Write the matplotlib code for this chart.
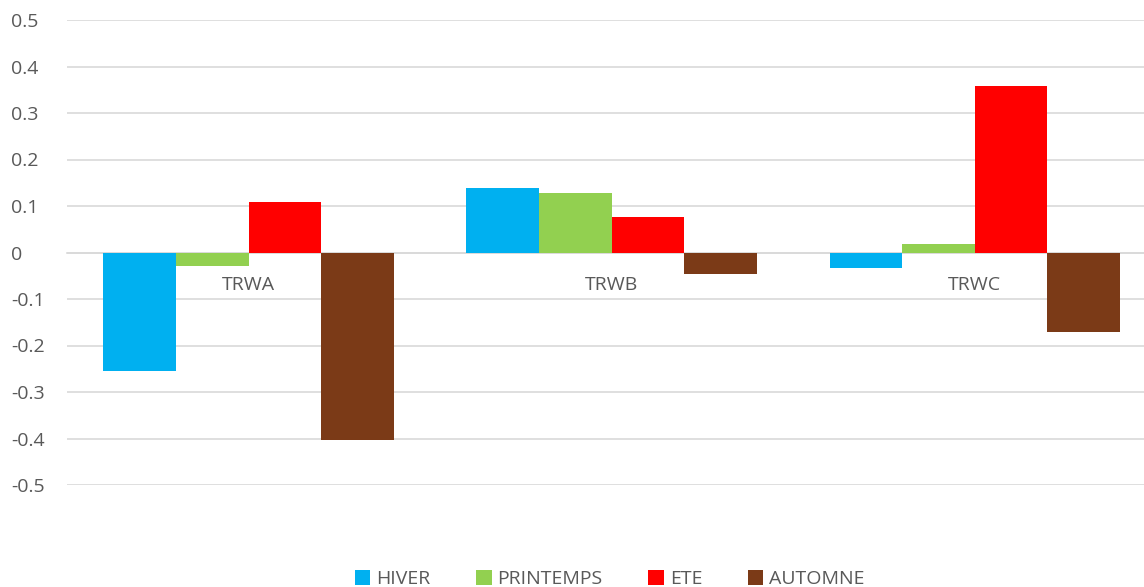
import numpy as np
import matplotlib.pyplot as plt
from matplotlib.patches import Patch

# data
categories = ['TRWA', 'TRWB', 'TRWC']
seasons = ['HIVER', 'PRINTEMPS', 'ETE', 'AUTOMNE']
hiver = [-0.254, 0.138, -0.034]
printemps = [-0.028, 0.127, 0.018]
ete = [0.108, 0.077, 0.359]
automne = [-0.403, -0.046, -0.172]
y_ticks = [-0.5, -0.4, -0.3, -0.2, -0.1, 0, 0.1, 0.2, 0.3, 0.4, 0.5]
y_labels = ['-0.5', '-0.4', '-0.3', '-0.2', '-0.1', '0', '0.1', '0.2', '0.3', '0.4', '0.5']

colors = ['#00B0F0', '#92D050', '#FF0000', '#7B3A17']
txt_col = '#595959'
grid_col = '#D9D9D9'

plt.rcParams['font.family'] = ['Open Sans', 'DejaVu Sans']

fig = plt.figure(figsize=(11.44, 5.87), dpi=100)
ax = fig.add_axes([67 / 1144, 102 / 587, 1 - 67 / 1144, 465 / 587])

x = np.arange(len(categories))
w = 0.2
series = [hiver, printemps, ete, automne]
for i, vals in enumerate(series):
    ax.bar(x + (i - 1.5) * w, vals, width=w, color=colors[i], zorder=3)

ax.set_ylim(-0.5, 0.5)
ax.set_xlim(-0.5, 2.466)
ax.set_yticks(y_ticks)
ax.set_yticklabels(y_labels)
ax.yaxis.grid(True, color=grid_col, linewidth=1.2, zorder=0)
ax.set_axisbelow(True)

for s in ['top', 'right', 'left']:
    ax.spines[s].set_visible(False)
ax.spines['bottom'].set_position(('data', 0))
ax.spines['bottom'].set_color(grid_col)
ax.spines['bottom'].set_linewidth(1.2)
ax.spines['bottom'].set_zorder(1)

ax.set_xticks(x)
ax.set_xticklabels(categories)
ax.tick_params(axis='x', length=0, pad=17, labelsize=14, labelcolor=txt_col)
ax.tick_params(axis='y', length=0, pad=40, labelsize=14, labelcolor=txt_col)
for lab in ax.get_yticklabels():
    lab.set_horizontalalignment('left')

handles = [Patch(facecolor=c) for c in colors]
fig.legend(handles, seasons, loc='center', bbox_to_anchor=(0.533, 0.014),
           ncol=4, frameon=False, fontsize=14, labelcolor=txt_col,
           handlelength=0.8, handleheight=0.8, handletextpad=0.3,
           columnspacing=2.35)

plt.savefig('out.png', dpi=100)
